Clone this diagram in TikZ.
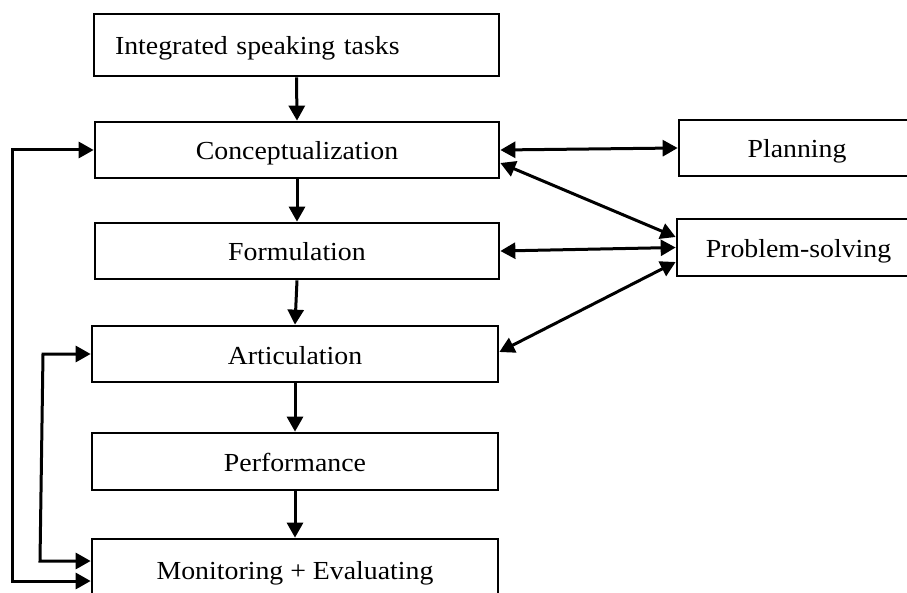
\documentclass[tikz,border=0pt]{standalone}
\usepackage{fontspec}
\setmainfont{Liberation Serif}[FakeStretch=1.07]
\usetikzlibrary{arrows.meta}
\begin{document}
\begin{tikzpicture}[x=1pt,y=-1pt,
  box/.style={draw, line width=2.7pt, minimum height=56pt, inner sep=0pt,
    text height=20pt, text depth=0pt,
    font=\fontsize{26}{30}\selectfont},
  arr/.style={line width=3pt, -{Triangle[length=15pt,width=16pt]}},
  darr/.style={line width=3pt, {Triangle[length=15pt,width=16pt]}-{Triangle[length=15pt,width=16pt]}}]
\useasboundingbox (0,0) rectangle (907,593);
\node[box, minimum width=405pt, minimum height=62pt, text width=363pt, align=left, inner xsep=21pt] (int) at (296.5,45) {Integrated speaking tasks};
\node[box, minimum width=404pt] (conc) at (297,150) {Conceptualization};
\node[box, minimum width=404pt] (form) at (297,251) {Formulation};
\node[box, minimum width=406pt] (artic) at (295,354) {Articulation};
\node[box, minimum width=406pt, minimum height=57pt] (perf) at (295,461.5) {Performance};
\node[box, minimum width=406pt, minimum height=61pt] (mon) at (295,569.5) {Monitoring + Evaluating};
\node[box, minimum width=236pt] (plan) at (797,148) {Planning};
\node[box, minimum width=243pt, minimum height=57pt] (ps) at (798.5,247.5) {Problem-solving};
\coordinate (o1) at (12,581);
\coordinate (o2) at (12,150);
\coordinate (i1) at (40,561);
\coordinate (i2) at (43,354);
\draw[arr] (int.south) -- (conc.north);
\draw[arr] (conc.south) -- (form.north);
\draw[arr] (form.south) -- (artic.north);
\draw[arr] (artic.south) -- (perf.north);
\draw[arr] (perf.south) -- (mon.north);
\draw[darr] (mon.west |- o1) -- (o1) -- (o2) -- (conc.west |- o2);
\draw[darr] (mon.west |- i1) -- (i1) -- (i2) -- (artic.west |- i2);
\draw[darr] (conc.east) -- (plan.west);
\draw[darr] ([yshift=-13pt]conc.east) -- ([yshift=10.5pt]ps.west);
\draw[darr] (form.east) -- (ps.west);
\draw[darr] ([yshift=2pt]artic.east) -- ([yshift=-14.5pt]ps.west);
\end{tikzpicture}
\end{document}
